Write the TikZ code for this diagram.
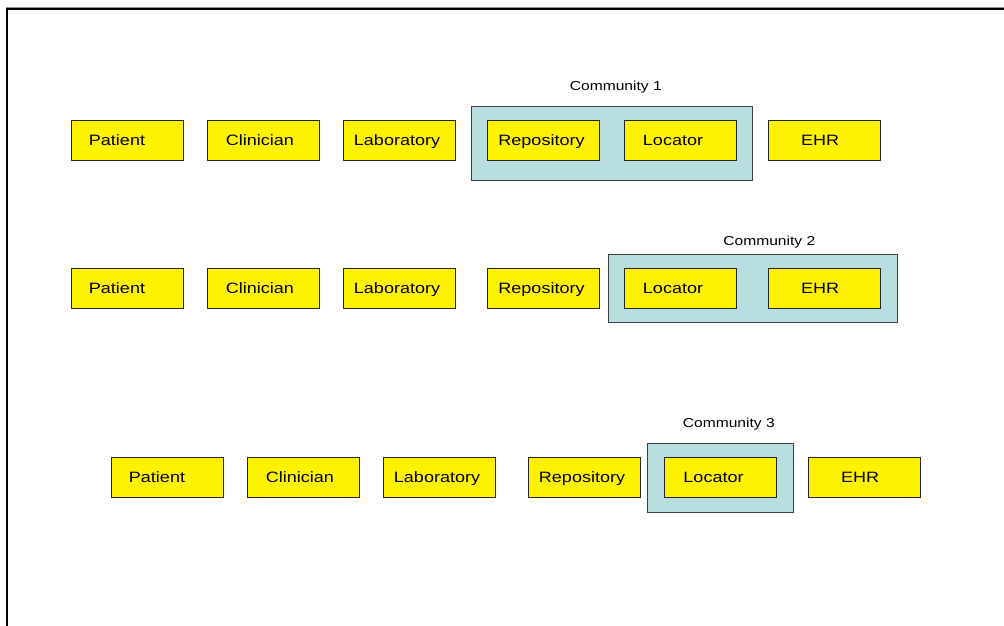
\documentclass[tikz,border=0pt]{standalone}
\usepackage{fontspec}
\setmainfont[FakeStretch=1.2]{Liberation Sans}
\begin{document}
\begin{tikzpicture}[x=1pt,y=-1pt,
  role/.style={draw=black!85, line width=0.9pt, fill=yellow, inner sep=0pt,
    minimum width=112pt, minimum height=40pt,
    font=\fontsize{15}{18}\selectfont, text height=11pt, text depth=0pt},
  nudge/.style={execute at end node={\hspace*{#1}}},
  community/.style={draw=black!75, line width=0.9pt, fill={rgb,255:red,185;green,222;blue,224},
    inner sep=0pt},
  caption/.style={anchor=base, inner sep=0pt, font=\fontsize{13}{16}\selectfont}]
\useasboundingbox (0,0) rectangle (1004,626);
% page frame
\fill[black!45] (6,6.6) rectangle (1004,8);
\fill[black] (6,7.9) rectangle (1004,9.8);
\fill[black] (6.2,8) rectangle (7.8,626);
\fill[black] (6.2,8) rectangle (8.4,25);

% community groupings
\node[community, minimum width=281pt, minimum height=74pt] (c1) at (612,143.5) {};
\node[community, minimum width=289pt, minimum height=68pt] (c2) at (752.5,288) {};
\node[community, minimum width=146pt, minimum height=69pt] (c3) at (720,477.5) {};
\node[caption] (c1lab) at (615.8,90.7) {Community 1};
\node[caption] (c2lab) at (769.3,245) {Community 2};
\node[caption] (c3lab) at (728.8,427.7) {Community 3};

% row 1
\node[role, nudge=20pt] (pa1) at (127,140) {Patient};
\node[role, nudge=6pt]  (cl1) at (263,140) {Clinician};
\node[role, nudge=4pt]  (la1) at (399,140) {Laboratory};
\node[role, nudge=4pt]  (re1) at (543.5,140) {Repository};
\node[role, nudge=14pt] (lo1) at (680,140) {Locator};
\node[role, nudge=8pt]  (eh1) at (824,140) {EHR};

% row 2
\node[role, nudge=20pt] (pa2) at (127,288) {Patient};
\node[role, nudge=6pt]  (cl2) at (263,288) {Clinician};
\node[role, nudge=4pt]  (la2) at (399,288) {Laboratory};
\node[role, nudge=4pt]  (re2) at (543.5,288) {Repository};
\node[role, nudge=14pt] (lo2) at (680,288) {Locator};
\node[role, nudge=8pt]  (eh2) at (824,288) {EHR};

% row 3
\node[role, nudge=20pt] (pa3) at (167,477) {Patient};
\node[role, nudge=6pt]  (cl3) at (303,477) {Clinician};
\node[role, nudge=4pt]  (la3) at (439,477) {Laboratory};
\node[role, nudge=4pt]  (re3) at (584,477) {Repository};
\node[role, nudge=14pt] (lo3) at (720.5,477) {Locator};
\node[role, nudge=8pt]  (eh3) at (864,477) {EHR};
\end{tikzpicture}
\end{document}
